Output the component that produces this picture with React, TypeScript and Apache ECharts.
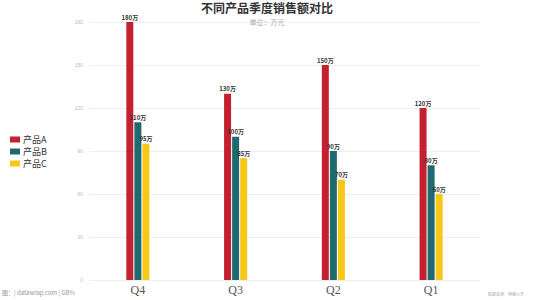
import React, { useEffect, useRef } from "react";
import * as echarts from "echarts";

const categories = ["Q4", "Q3", "Q2", "Q1"];
const seriesNames = ["产品A", "产品B", "产品C"];
const productA = [180, 130, 150, 120];
const productB = [110, 100, 90, 80];
const productC = [95, 85, 70, 60];
const colors = ["#c4202f", "#1f6a6e", "#f7c81a"];

export default function App() {
  const ref = useRef<HTMLDivElement>(null);
  useEffect(() => {
    const chart = echarts.init(ref.current!, null, { renderer: "svg" });
    const data = [productA, productB, productC];
    chart.setOption({
      animation: false,
      backgroundColor: "#fff",
      title: {
        text: "不同产品季度销售额对比",
        subtext: "单位：万元",
        left: "center",
        top: 0,
        padding: 0,
        itemGap: 4,
        textStyle: { fontSize: 12, lineHeight: 14, fontWeight: "bold", color: "#333", fontFamily: "Noto Sans CJK SC" },
        subtextStyle: { fontSize: 7, lineHeight: 7, color: "#aaa", fontFamily: "Noto Sans CJK SC" },
      },
      legend: {
        orient: "vertical",
        left: 5,
        top: 130,
        itemWidth: 10,
        itemHeight: 6,
        itemGap: 3,
        icon: "rect",
        data: seriesNames,
        textStyle: { fontSize: 9, color: "#333", fontFamily: "Noto Sans CJK SC", padding: [0, 0, 0, -2] },
      },
      grid: { left: 89, right: 54, top: 22, bottom: 20 },
      xAxis: {
        type: "category",
        data: categories,
        axisLine: { show: false },
        axisTick: { show: false },
        axisLabel: { fontFamily: "Liberation Serif", fontSize: 12, color: "#555", margin: 4 },
      },
      yAxis: {
        type: "value",
        min: 0,
        max: 180,
        interval: 30,
        axisLine: { show: false },
        axisTick: { show: false },
        axisLabel: { fontSize: 5, color: "#bbb", margin: 6 },
        splitLine: { lineStyle: { color: "#eee", width: 1 } },
      },
      series: seriesNames.map((name, i) => ({
        name,
        type: "bar",
        data: data[i],
        barWidth: 7,
        barGap: "15%",
        itemStyle: { color: colors[i] },
        label: {
          show: true,
          position: "top",
          distance: 2,
          formatter: "{c}万",
          fontSize: 6,
          fontWeight: "bold",
          color: "#333",
          fontFamily: "Noto Sans CJK SC",
        },
      })),
      graphic: [
        {
          type: "text",
          left: 2,
          top: 289,
          style: { text: "图：| datawrap.com | GB%", fontSize: 6, fill: "#999", fontFamily: "Noto Sans CJK SC" },
        },
        {
          type: "text",
          right: 10,
          top: 292,
          style: { text: "数据来源：网络公开", fontSize: 4, fill: "#aaa", fontFamily: "Noto Sans CJK SC" },
        },
      ],
    });
    return () => chart.dispose();
  }, []);
  return <div ref={ref} style={{ position: "fixed", left: 0, top: 0, width: 534, height: 300 }} />;
}
